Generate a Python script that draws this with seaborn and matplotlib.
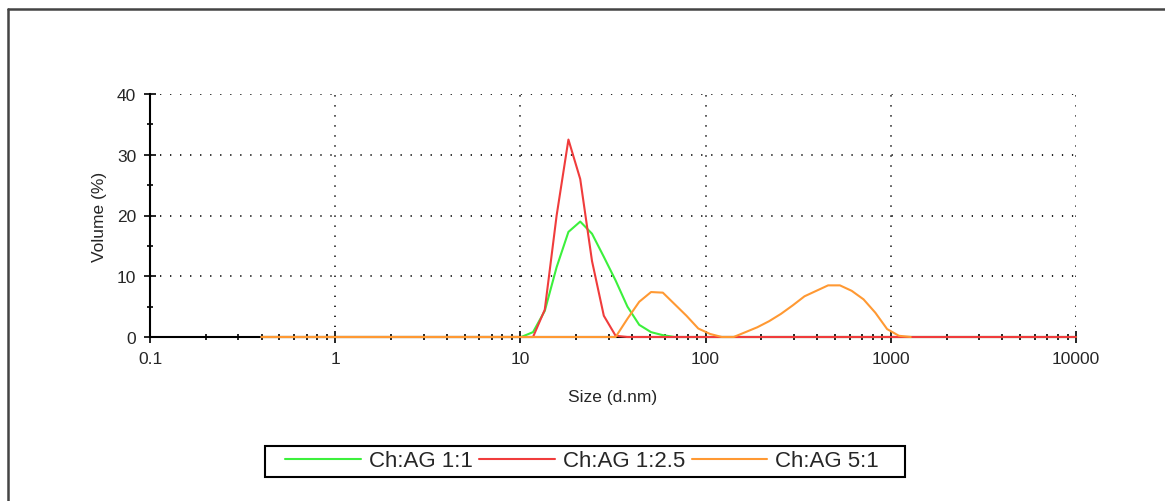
import matplotlib
matplotlib.use("Agg")
import matplotlib.pyplot as plt
import seaborn as sns
import pandas as pd
from matplotlib.ticker import FixedLocator, NullFormatter
from matplotlib.patches import Rectangle

# size classes (d.nm) of the instrument
sizes = [0.4, 0.4632, 0.5365, 0.6213, 0.7195, 0.8332, 0.9649, 1.117, 1.294, 1.499,
         1.736, 2.01, 2.328, 2.696, 3.122, 3.615, 4.187, 4.849, 5.615, 6.503,
         7.531, 8.721, 10.1, 11.7, 13.54, 15.69, 18.17, 21.04, 24.36, 28.21,
         32.67, 37.84, 43.82, 50.75, 58.77, 68.06, 78.82, 91.28, 105.7, 122.4,
         141.8, 164.2, 190.1, 220.2, 255.0, 295.3, 342.0, 396.1, 458.7, 531.2,
         615.1, 712.4, 825.0, 955.4, 1106, 1281, 1484, 1718, 1990, 2305,
         2669, 3091, 3580, 4145, 4801, 5560, 6439, 7456, 8635, 10000]

vol_1_1 = [0] * 22 + [0, 0.8, 4.3, 11.5, 17.3, 19.0, 17.0, 13.2, 9.3, 5.0,
                      2.0, 0.8, 0.3, 0] + [0] * 34
vol_1_2_5 = [0] * 23 + [0, 4.5, 20.0, 32.5, 26.0, 12.5, 3.5, 0.2] + [0] * 39
# this series stops at 1281 nm
vol_5_1 = [0] * 31 + [3.0, 5.8, 7.4, 7.3, 5.4, 3.5, 1.4, 0.5, 0, 0,
                      0.8, 1.6, 2.6, 3.8, 5.2, 6.7, 7.6, 8.5, 8.5, 7.6,
                      6.2, 4.0, 1.3, 0.2, 0]

labels = ["Ch:AG 1:1", "Ch:AG 1:2.5", "Ch:AG 5:1"]
colors = ["#3cf03c", "#f03c3c", "#ff9933"]
xticks = [0.1, 1, 10, 100, 1000, 10000]
xticklabels = ["0.1", "1", "10", "100", "1000", "10000"]
yticks = [0, 10, 20, 30, 40]

sns.set_style("white")
plt.rcParams["font.family"] = ["Liberation Sans", "DejaVu Sans"]

fig = plt.figure(figsize=(11.65, 5.02), dpi=100)
ax = fig.add_axes([150 / 1165, 1 - 338 / 502, 926 / 1165, 243 / 502])

series = [vol_1_1, vol_1_2_5, vol_5_1]
for vals, lab, col in zip(series, labels, colors):
    df = pd.DataFrame({"size": sizes[:len(vals)], "vol": vals})
    sns.lineplot(data=df, x="size", y="vol", ax=ax, color=col, label=lab,
                 linewidth=1.5, estimator=None, sort=False,
                 clip_on=False, zorder=3)

ax.set_xscale("log")
ax.set_xlim(0.1, 10000)
ax.set_ylim(0, 40)
ax.set_xticks(xticks)
ax.set_xticklabels(xticklabels)
ax.xaxis.set_minor_formatter(NullFormatter())
ax.set_yticks(yticks)
ax.yaxis.set_minor_locator(FixedLocator([5, 15, 25, 35]))

for s in ["top", "right"]:
    ax.spines[s].set_visible(False)
for s in ["left", "bottom"]:
    ax.spines[s].set_color("black")
    ax.spines[s].set_linewidth(1.5)

ax.grid(True, which="major", color="#111111", linewidth=1.3,
        linestyle=(0, (0.7, 4.85)))
ax.tick_params(axis="both", which="major", direction="inout", length=8,
               width=1.2, color="black", labelsize=12.5, pad=6)
ax.tick_params(axis="both", which="minor", direction="inout", length=5,
               width=1.2, color="black")
ax.tick_params(axis="x", which="both", bottom=True)
ax.tick_params(axis="y", which="both", left=True)

ax.set_xlabel("Size (d.nm)", fontsize=12.5)
ax.set_ylabel("Volume (%)", fontsize=12.5)
ax.xaxis.set_label_coords(0.499, -0.215)
ax.yaxis.set_label_coords(-0.046, 0.5)

ax.get_legend().remove()
handles, labs = ax.get_legend_handles_labels()
leg = fig.legend(handles, labs, loc="center", ncol=3,
                 bbox_to_anchor=(582 / 1165, 1 - 462 / 502),
                 fontsize=16, frameon=False, handlelength=3.4,
                 handletextpad=0.35, columnspacing=0.3, borderpad=0,
                 borderaxespad=0)

# legend box
fig.add_artist(Rectangle((265 / 1165, 1 - 478 / 502), 640 / 1165, 31 / 502,
                         transform=fig.transFigure, fill=False,
                         edgecolor="black", linewidth=1.5))

# outer frame of the report panel
fig.add_artist(plt.Line2D([8 / 1165, 1], [1 - 10 / 502, 1 - 10 / 502],
                          color="#444444", linewidth=1.8))
fig.add_artist(plt.Line2D([8 / 1165, 8 / 1165], [0, 1 - 10 / 502],
                          color="#444444", linewidth=1.8))

fig.savefig("out.png", dpi=100)
